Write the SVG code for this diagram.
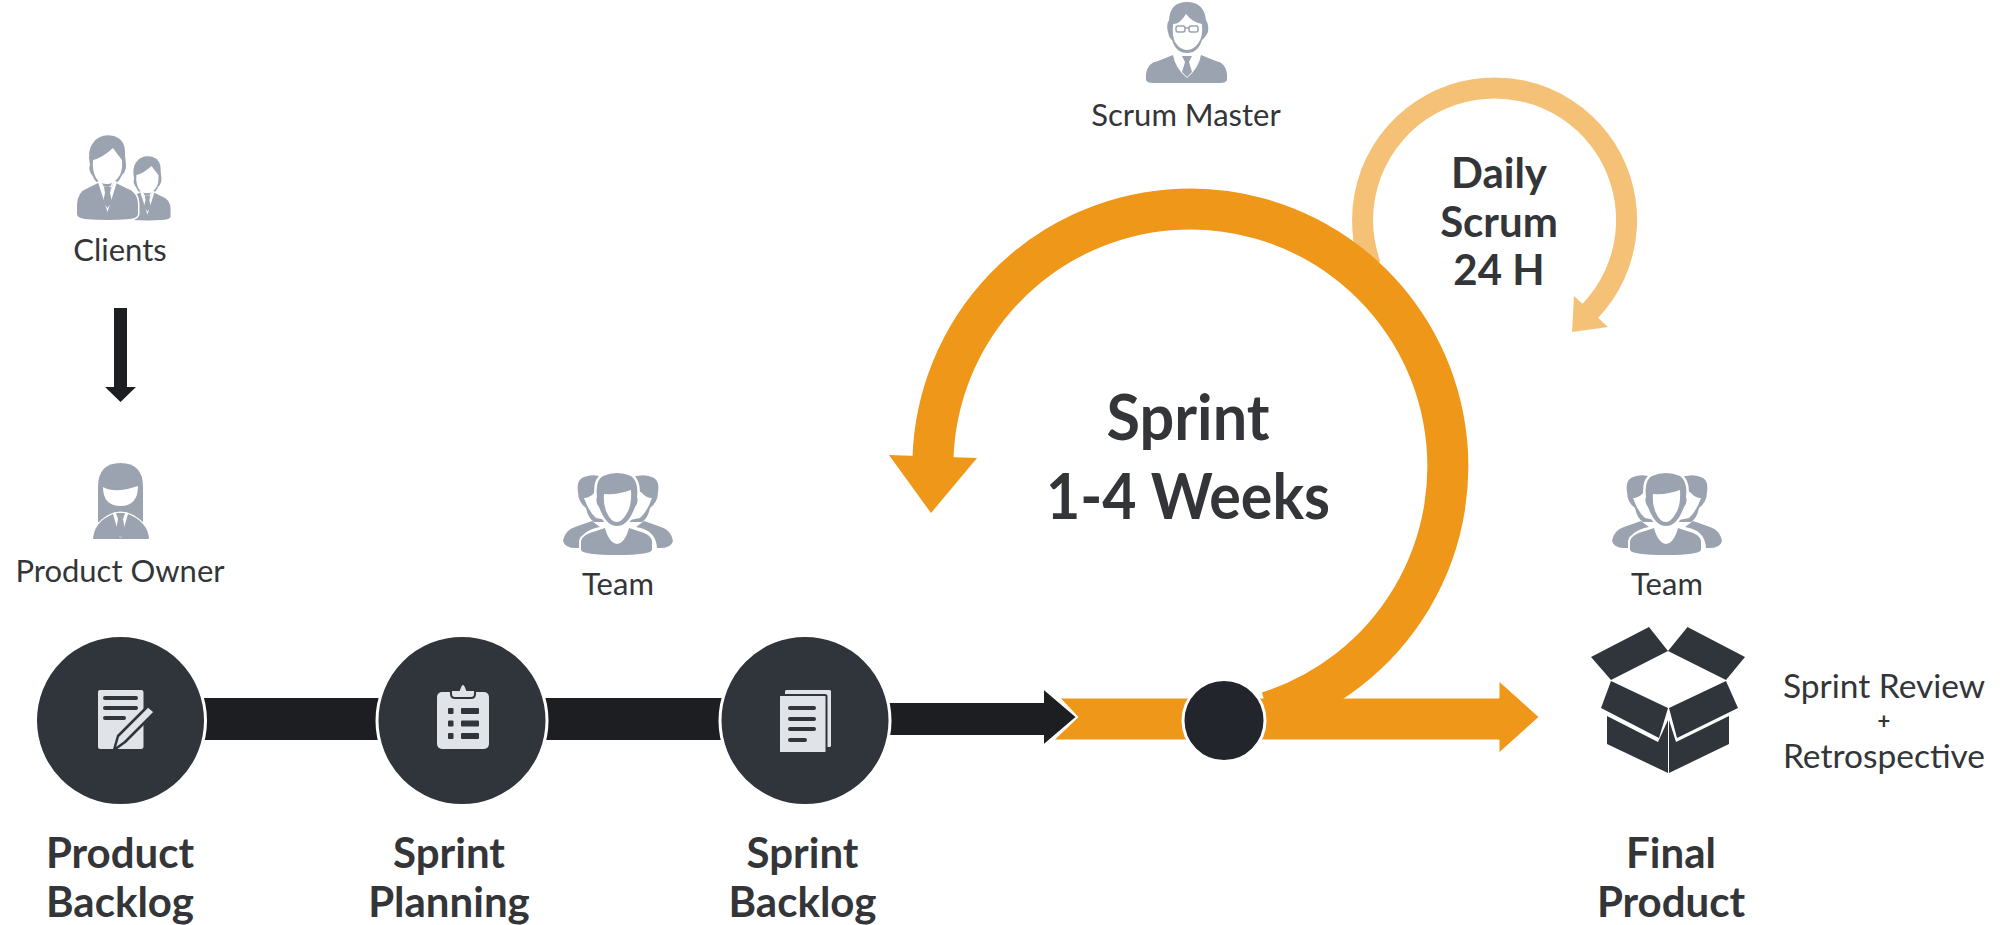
<svg xmlns="http://www.w3.org/2000/svg" width="2000" height="925" viewBox="0 0 2000 925">
<style>
text{font-family:"Lato","Liberation Sans",sans-serif;fill:#333538;text-anchor:middle}
.r{font-size:31px;font-weight:400}
.s{font-size:33.500px;font-weight:400}
.b{font-size:42px;font-weight:700}
.g{fill:#9aa3af}
.w{fill:#fff}
.l{fill:#e0e3e8}
.d{fill:#30353c}
.disc{fill:#30353c;stroke:#fff;stroke-width:3}
</style>
<defs>
<g id="man">
<path class="g" d="M90,165Q87,150 93,143Q100,133 114,136Q126,140 125,155L126,165Q126,172 122,175Q117,187 107,187Q97,187 92,175Q88,170 90,165Z"/>
<path class="w" d="M93,160Q102,158 113,148Q118,155 122,160Q123,172 118,178Q113,184 107,184Q100,184 96,178Q92,170 93,160Z"/>
<path class="g" stroke="#fff" stroke-width="3" paint-order="stroke" d="M77,205Q77,192 88,188L100,182L107,198L114,182L126,188Q138,192 138,205L138,214Q138,218 130,219Q107,221 85,219Q77,218 77,214Z"/>
<path class="w" d="M98,182L107.500,212L117,182L114,182L107.500,198L101,182Z"/>
<path class="g" d="M104,187L111,187L110,193L112,202L107.500,208L103,202L105,193Z"/>
</g>
<g id="team">
<path class="g" d="M578,492Q576,480 584,477Q594,473 606,478V522L594,522Q588,518 586,508Q578,502 578,492Z"/>
<path class="g" d="M658,492Q660,480 652,477Q642,473 630,478V522L642,522Q648,518 650,508Q658,502 658,492Z"/>
<path class="w" d="M584,498Q590,498 595,492H606V520L596,518Q589,512 584,498Z"/>
<path class="w" d="M652,498Q646,498 641,492H630V520L640,518Q647,512 652,498Z"/>
<path class="g" d="M563,541Q565,530 575,527L592,521L600,527Q580,530 579,548Q565,549 563,541Z"/>
<path class="g" d="M673,541Q671,530 661,527L644,521L636,527Q656,530 657,548Q671,549 673,541Z"/>
<path class="g" stroke="#fff" stroke-width="5" paint-order="stroke" d="M597,497Q595,480 603,476Q617,470 631,476Q639,482 637,497Q639,502 635,507Q628,526 617,526Q606,526 599,507Q595,502 597,497Z"/>
<path class="w" d="M604,494Q618,495 631,490Q632,505 627,513Q622,522 617,522Q611,522 607,513Q603,505 604,494Z"/>
<path class="g" stroke="#fff" stroke-width="4" paint-order="stroke" d="M581,541Q583,534 596,531L605,528Q609,543 617,544Q625,543 629,528L638,531Q651,534 652,541L652,550Q650,555 617,555Q583,555 581,550Z"/>
</g>
</defs>

<g id="connectors">
<path fill="#1c1e22" d="M114,308H127V387H136L120.500,402L105,387H114Z"/>
<rect x="200" y="698" width="190" height="42" fill="#1c1e22"/>
<rect x="540" y="698" width="190" height="42" fill="#1c1e22"/>
<path d="M1370.500,265A132,132 0 1 1 1589.500,311.700" fill="none" stroke="#f5c177" stroke-width="21"/>
<path fill="#f5c177" d="M1574,296L1608,327L1572,332Z"/>
<path fill="#ee9718" stroke="#fff" stroke-width="1" d="M1060,698H1499V681L1539,717L1499,753V740H1054L1078,717Z"/>
<path d="M1268,712A257.500,257.500 0 1 0 933,458" fill="none" stroke="#ee9718" stroke-width="41"/>
<path fill="#ee9718" d="M889,455L977,458L931,513Z"/>
<path fill="#1c1e22" stroke="#fff" stroke-width="2" d="M885,702H1043V688L1077,717L1043,746V736H885Z"/>
</g>

<g id="clients">
<use href="#man" transform="translate(65.700,53.400) scale(0.76)"/>
<use href="#man"/>
<text class="r" x="120" y="261">Clients</text>
</g>

<g id="product-owner">
<path class="g" d="M98,522V487Q98,463 120.500,463Q143,463 143,487V522Z"/>
<path class="w" d="M103,487Q115,494 138,486Q138,506 120.500,506Q103,506 103,487Z"/>
<path class="w" d="M96,525Q120,498 146,525V530H96Z"/>
<path class="g" d="M93,539Q94,522 113,514L120,538H121L128,514Q148,522 149,539Z"/>
<path class="g" d="M116,513H125L123,519L125,530L120.500,538L116,530L118,519Z"/>
<text class="r" x="120" y="582">Product Owner</text>
</g>

<g id="scrum-master">
<path class="g" d="M1168,32Q1166,25 1169,20Q1170,2 1187,2Q1204,2 1206,20Q1209,25 1208,32Q1205,38 1202,40Q1198,53 1187,53Q1176,53 1172,40Q1169,38 1168,32Z"/>
<path class="w" d="M1173,24Q1180,24 1186,14Q1192,22 1202,24Q1203,36 1199,42Q1194,50 1187,50Q1180,50 1175,42Q1172,36 1173,24Z"/>
<g fill="none" stroke="#9aa3af" stroke-width="1.500"><rect x="1176" y="26" width="9" height="6" rx="2"/><rect x="1189" y="26" width="9" height="6" rx="2"/><path d="M1185,28H1189"/></g>
<path class="g" d="M1146,74Q1147,63 1158,61L1173,55Q1175,68 1187,78Q1199,68 1201,55L1216,61Q1226,63 1227,74V80Q1226,83 1220,83H1153Q1147,83 1146,80Z"/>
<path class="g" d="M1182,56H1192L1189,62L1192,72L1187,77L1182,72L1185,62Z"/>
<text class="r" x="1186" y="126">Scrum Master</text>
</g>

<g id="daily-scrum">
<text class="b" x="1499" y="188">Daily</text>
<text class="b" x="1499" y="237">Scrum</text>
<text class="b" x="1499" y="285">24 H</text>
</g>

<g id="sprint">
<text font-size="64" font-weight="700" x="1188" y="440" textLength="163" lengthAdjust="spacingAndGlyphs">Sprint</text>
<text font-size="64" font-weight="700" x="1188" y="519" textLength="284" lengthAdjust="spacingAndGlyphs">1-4 Weeks</text>
</g>

<g id="team-1">
<use href="#team"/>
<text class="r" x="618" y="595">Team</text>
</g>

<g id="team-2">
<use href="#team" transform="translate(1049,0)"/>
<text class="r" x="1667" y="595">Team</text>
</g>

<g id="product-backlog">
<circle class="disc" cx="120.500" cy="720.500" r="85"/>
<path class="l" d="M100,690H141Q143.500,690 143.500,692V747Q143.500,749 141,749H100Q98,749 98,747V692Q98,690 100,690Z"/>
<g class="d"><rect x="103" y="696" width="35" height="4" rx="2"/><rect x="103" y="706" width="35" height="4" rx="2"/><rect x="103" y="716" width="23" height="4" rx="2"/></g>
<path class="l" stroke="#30353c" stroke-width="2.500" stroke-linejoin="round" d="M148,706L155,712L125,742L114,750L118,736Z"/>
<text class="b" x="120" y="868">Product</text>
<text class="b" x="120" y="917">Backlog</text>
</g>

<g id="sprint-planning">
<circle class="disc" cx="462" cy="720.500" r="85"/>
<rect class="l" x="437" y="692" width="52" height="57" rx="5"/>
<path class="l" stroke="#30353c" stroke-width="2" d="M451,690H459Q461,684 463,684Q465,684 467,690H475V694Q475,698 471,698H455Q451,698 451,694Z"/>
<g class="d"><rect x="448" y="708" width="5.500" height="6" rx="1"/><rect x="461" y="708" width="18" height="6" rx="1"/><rect x="448" y="720.500" width="5.500" height="6" rx="1"/><rect x="461" y="720.500" width="18" height="6" rx="1"/><rect x="448" y="733" width="5.500" height="6" rx="1"/><rect x="461" y="733" width="18" height="6" rx="1"/></g>
<text class="b" x="449" y="868">Sprint</text>
<text class="b" x="449" y="917">Planning</text>
</g>

<g id="sprint-backlog">
<circle class="disc" cx="805" cy="720.500" r="85"/>
<rect class="l" x="785" y="690" width="46" height="57" rx="1.500"/>
<rect class="l" stroke="#30353c" stroke-width="2" x="779" y="695" width="47.500" height="58" rx="1.500"/>
<g class="d"><rect x="788" y="706" width="28" height="4" rx="2"/><rect x="788" y="717" width="28" height="4" rx="2"/><rect x="788" y="727" width="28" height="4" rx="2"/><rect x="788" y="738" width="19" height="4" rx="2"/></g>
<text class="b" x="802.500" y="868">Sprint</text>
<text class="b" x="802.500" y="917">Backlog</text>
</g>

<g id="merge-point">
<circle cx="1224" cy="720.500" r="41" fill="#22252b" stroke="#fff" stroke-width="3"/>
</g>

<g id="final-product">
<g class="d">
<path d="M1649,627L1668,651L1611,680L1591,657Z"/>
<path d="M1687.500,627L1745,657L1726,680L1668,651Z"/>
<path d="M1611,681L1668,708L1659,738L1601,708Z"/>
<path d="M1726,681L1738,708L1677,738L1669,708Z"/>
<path d="M1607,716L1658,742L1668,720V773L1607,744Z"/>
<path d="M1729,716L1676,742L1669,720V773L1729,744Z"/>
</g>
<text class="b" x="1671" y="868">Final</text>
<text class="b" x="1671" y="917">Product</text>
<text class="s" x="1884" y="698">Sprint Review</text>
<text font-size="22" font-weight="700" x="1884" y="729">+</text>
<text class="s" x="1884" y="768">Retrospective</text>
</g>
</svg>
